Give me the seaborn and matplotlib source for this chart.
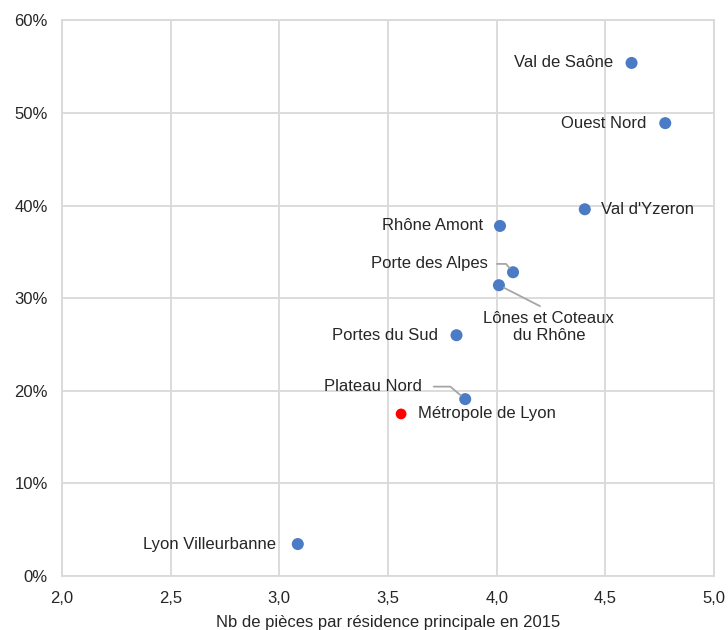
import pandas as pd
import seaborn as sns
import matplotlib.pyplot as plt
from matplotlib.ticker import FuncFormatter, MultipleLocator

# données
territoires = ["Val de Saône", "Ouest Nord", "Val d'Yzeron", "Rhône Amont",
               "Porte des Alpes", "Lônes et Coteaux\ndu Rhône", "Portes du Sud",
               "Plateau Nord", "Lyon Villeurbanne"]
nb_pieces = [4.62, 4.775, 4.405, 4.015, 4.075, 4.01, 3.815, 3.855, 3.085]
part = [55.4, 48.9, 39.6, 37.8, 32.8, 31.4, 26.0, 19.1, 3.45]

metropole_nom = "Métropole de Lyon"
metropole_x = [3.56]
metropole_y = [17.5]

df = pd.DataFrame({"territoire": territoires, "pieces": nb_pieces, "part": part})
df_metro = pd.DataFrame({"territoire": [metropole_nom], "pieces": metropole_x, "part": metropole_y})

sns.set_style("whitegrid")
plt.rcParams['font.family'] = ['Liberation Sans', 'DejaVu Sans']

fig = plt.figure(figsize=(7.28, 6.3), dpi=100)
ax = fig.add_axes([0.085, 0.0857, 0.896, 0.882])

sns.scatterplot(data=df, x="pieces", y="part", color="#4a7bc4", s=75,
                edgecolor="none", ax=ax, zorder=3)
sns.scatterplot(data=df_metro, x="pieces", y="part", color="#FF0000", s=60,
                edgecolor="none", ax=ax, zorder=3)

ax.set_xlim(2.0, 5.0)
ax.set_ylim(0, 60)
ax.xaxis.set_major_locator(MultipleLocator(0.5))
ax.yaxis.set_major_locator(MultipleLocator(10))
ax.xaxis.set_major_formatter(FuncFormatter(lambda v, p: f"{v:.1f}".replace(".", ",")))
ax.yaxis.set_major_formatter(FuncFormatter(lambda v, p: f"{v:.0f}%"))
ax.grid(color="#d9d9d9", linewidth=1.3)
for s in ax.spines.values():
    s.set_color("#d9d9d9")
    s.set_linewidth(1.3)
ax.tick_params(axis="both", length=0, labelsize=12, colors="#262626")
ax.tick_params(axis="x", pad=11)
ax.tick_params(axis="y", pad=10)
ax.set_xlabel("Nb de pièces par résidence principale en 2015", fontsize=12,
              color="#262626", labelpad=6)
ax.set_ylabel("")

# étiquettes: décalages en points
lbl = dict(fontsize=12, color="#262626")
offsets = {
    "Val de Saône": (-13, 0, "right"),
    "Ouest Nord": (-13.5, 0, "right"),
    "Val d'Yzeron": (11.5, 0, "left"),
    "Rhône Amont": (-12, 0, "right"),
    "Portes du Sud": (-13.5, 0, "right"),
    "Lyon Villeurbanne": (-16, 0, "right"),
}
for t, x, y in zip(territoires, nb_pieces, part):
    if t in offsets:
        dx, dy, ha = offsets[t]
        ax.annotate(t, (x, y), xytext=(dx, dy), textcoords="offset points",
                    ha=ha, va="center", **lbl)

line = dict(arrowstyle="-", color="#a6a6a6", lw=1.3, shrinkB=4)
i = territoires.index("Porte des Alpes")
ax.annotate("Porte des Alpes", (nb_pieces[i], part[i]), xytext=(-18, 6),
            textcoords="offset points", ha="right", va="center",
            arrowprops=dict(connectionstyle="angle,angleA=0,angleB=130,rad=0",
                            relpos=(1, 0.5), shrinkA=4, **line), **lbl)
i = territoires.index("Plateau Nord")
ax.annotate("Plateau Nord", (nb_pieces[i], part[i]), xytext=(-31, 9),
            textcoords="offset points", ha="right", va="center",
            arrowprops=dict(connectionstyle="angle,angleA=0,angleB=140,rad=0",
                            relpos=(1, 0.5), shrinkA=6, **line), **lbl)
i = territoires.index("Lônes et Coteaux\ndu Rhône")
ax.annotate("Lônes et Coteaux\ndu Rhône", (nb_pieces[i], part[i]), xytext=(36, -30),
            textcoords="offset points", ha="center", va="center", linespacing=1.2,
            arrowprops=dict(relpos=(0.5, 1), shrinkA=2, **line), **lbl)

ax.annotate(metropole_nom, (metropole_x[0], metropole_y[0]), xytext=(12, 0),
            textcoords="offset points", ha="left", va="center", **lbl)

plt.savefig("out.png", dpi=100)
